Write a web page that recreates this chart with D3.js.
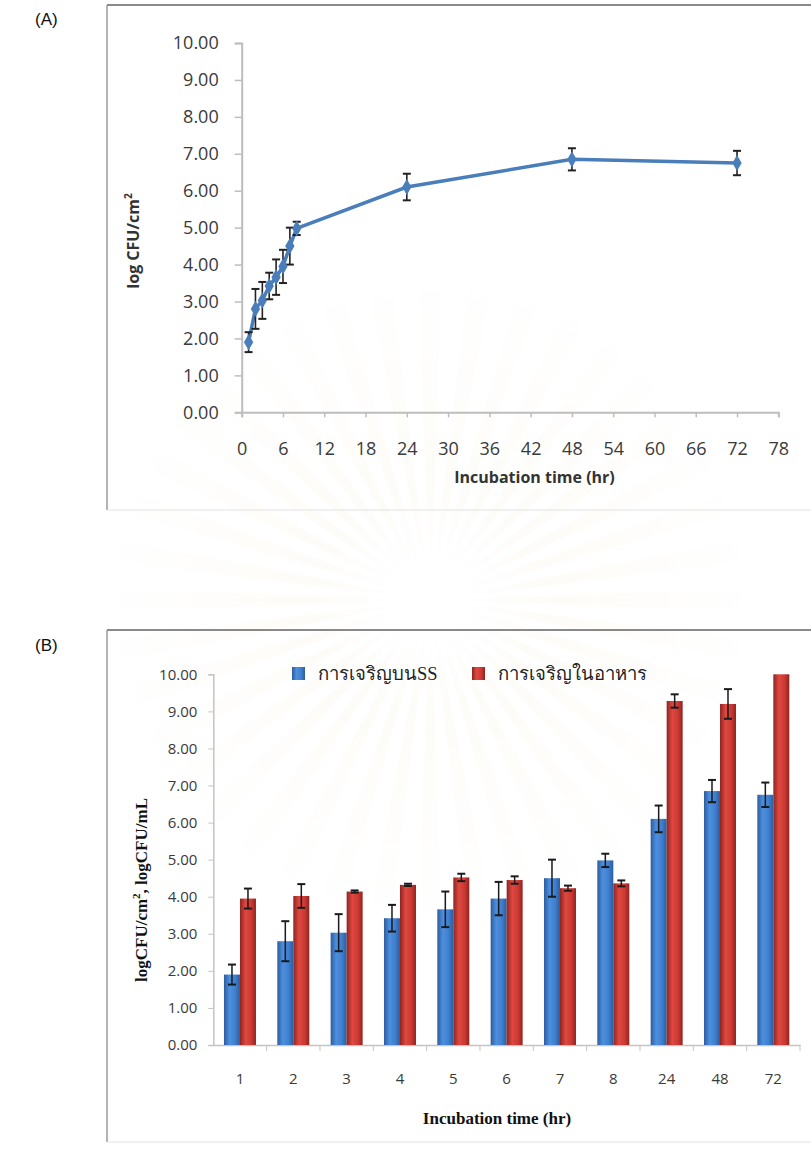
<!DOCTYPE html>
<html>
<head>
<meta charset="utf-8">
<script src="https://cdn.jsdelivr.net/npm/d3@7"></script>
<style>
  html, body { margin: 0; padding: 0; background: #fff; }
  svg { display: block; }
</style>
</head>
<body>
<svg id="chart" width="811" height="1149"></svg>
<script>
// Incubation times (hr) and growth measurements
const hours = [1, 2, 3, 4, 5, 6, 7, 8, 24, 48, 72];
const hourLabels = ["1", "2", "3", "4", "5", "6", "7", "8", "24", "48", "72"];

// Growth on stainless steel surface (log CFU/cm²) and its standard deviation
const surfaceMean = [1.90, 2.80, 3.03, 3.42, 3.66, 3.95, 4.50, 4.98, 6.10, 6.85, 6.75];
const surfaceSd   = [0.27, 0.54, 0.50, 0.36, 0.48, 0.45, 0.50, 0.18, 0.36, 0.30, 0.33];

// Growth in food (log CFU/mL) and its standard deviation
const foodMean = [3.95, 4.02, 4.14, 4.32, 4.52, 4.45, 4.23, 4.36, 9.28, 9.20, 10.00];
const foodSd   = [0.27, 0.32, 0.03, 0.03, 0.10, 0.10, 0.07, 0.08, 0.18, 0.40, 0.00];

const seriesNames = ["การเจริญบนSS", "การเจริญในอาหาร"];

const yTicks = [0, 1, 2, 3, 4, 5, 6, 7, 8, 9, 10];
const xTicksA = [0, 6, 12, 18, 24, 30, 36, 42, 48, 54, 60, 66, 72, 78];

const svg = d3.select("#chart");
const defs = svg.append("defs");

// faint sunburst emblem in the page background
const cx0 = 430, cy0 = 600;
const rg = defs.append("radialGradient").attr("id", "rayGrad")
  .attr("gradientUnits", "userSpaceOnUse").attr("cx", cx0).attr("cy", cy0).attr("r", 320);
rg.append("stop").attr("offset", "0.12").attr("stop-color", "#f3e4ba").attr("stop-opacity", 0.0);
rg.append("stop").attr("offset", "0.35").attr("stop-color", "#f3e4ba").attr("stop-opacity", 0.35);
rg.append("stop").attr("offset", "1").attr("stop-color", "#f3e4ba").attr("stop-opacity", 0.0);
const bg = svg.append("g").attr("opacity", 0.28);
d3.range(0, 40).forEach(i => {
  const a = (i / 40) * Math.PI * 2;
  const w = 0.035;
  const r = 320;
  bg.append("path")
    .attr("d", `M${cx0},${cy0} L${cx0 + r * Math.cos(a - w)},${cy0 + r * Math.sin(a - w)} L${cx0 + r * Math.cos(a + w)},${cy0 + r * Math.sin(a + w)} Z`)
    .attr("fill", "url(#rayGrad)");
});

const sans = "'Open Sans', 'Noto Sans', sans-serif";
const serif = "'Liberation Serif', 'DejaVu Serif', serif";

// panel labels
svg.append("text").attr("x", 35).attr("y", 25).text("(A)")
  .attr("font-family", "'Liberation Sans', Arial, sans-serif").attr("font-size", 17).attr("fill", "#111");
svg.append("text").attr("x", 35).attr("y", 651).text("(B)")
  .attr("font-family", "'Liberation Sans', Arial, sans-serif").attr("font-size", 17).attr("fill", "#111");

// ---------- Panel A: growth curve ----------
const frameA = svg.append("g");
frameA.append("line").attr("x1", 107).attr("x2", 811).attr("y1", 5).attr("y2", 5)
  .attr("stroke", "#8a8a8a").attr("stroke-width", 2);
frameA.append("line").attr("x1", 107).attr("x2", 107).attr("y1", 5).attr("y2", 510)
  .attr("stroke", "#9a9a9a").attr("stroke-width", 1.5);
frameA.append("line").attr("x1", 107).attr("x2", 811).attr("y1", 510).attr("y2", 510)
  .attr("stroke", "#e2e2e2").attr("stroke-width", 1);

const xA = d3.scaleLinear().domain([0, 78]).range([241.7, 778.3]);
const yA = d3.scaleLinear().domain([0, 10]).range([412.3, 43]);

const gA = svg.append("g");

const yAxisA = gA.append("g").attr("transform", `translate(${xA(0)},0)`)
  .call(d3.axisLeft(yA).tickValues(yTicks).tickFormat(d3.format(".2f")).tickSize(7).tickPadding(16));
const xAxisA = gA.append("g").attr("transform", `translate(0,${yA(0)})`)
  .call(d3.axisBottom(xA).tickValues(xTicksA).tickFormat(d3.format("d")).tickSize(5).tickPadding(25));
[yAxisA, xAxisA].forEach(ax => {
  ax.select(".domain").attr("stroke", "#bdbdbd").attr("stroke-width", 2);
  ax.selectAll(".tick line").attr("stroke", "#bdbdbd").attr("stroke-width", 1.5);
  ax.selectAll(".tick text").attr("font-family", sans).attr("font-size", 18).attr("fill", "#3a3a3a");
});

gA.append("text").text("Incubation time (hr)")
  .attr("x", 534.5).attr("y", 483).attr("text-anchor", "middle")
  .attr("font-family", sans).attr("font-weight", "bold").attr("font-size", 16).attr("fill", "#333");

const yTitleA = gA.append("text")
  .attr("transform", "translate(139,241) rotate(-90)").attr("text-anchor", "middle")
  .attr("font-family", sans).attr("font-weight", "bold").attr("font-size", 16).attr("fill", "#333");
yTitleA.append("tspan").text("log CFU/cm");
yTitleA.append("tspan").text("2").attr("font-size", 10).attr("dy", -7);

const pointsA = hours.map((h, i) => ({ h, m: surfaceMean[i], sd: surfaceSd[i] }));

gA.append("path").datum(pointsA)
  .attr("d", d3.line().x(d => xA(d.h)).y(d => yA(d.m)))
  .attr("fill", "none").attr("stroke", "#4a7ebb").attr("stroke-width", 3.5);

const errA = gA.append("g").selectAll("g").data(pointsA).join("g");
errA.append("line").attr("x1", d => xA(d.h)).attr("x2", d => xA(d.h))
  .attr("y1", d => yA(d.m - d.sd)).attr("y2", d => yA(d.m + d.sd))
  .attr("stroke", "#222").attr("stroke-width", 1.6);
errA.selectAll("line.cap").data(d => [[d.h, d.m - d.sd], [d.h, d.m + d.sd]]).join("line")
  .attr("class", "cap")
  .attr("x1", d => xA(d[0]) - 4).attr("x2", d => xA(d[0]) + 4)
  .attr("y1", d => yA(d[1])).attr("y2", d => yA(d[1]))
  .attr("stroke", "#222").attr("stroke-width", 2);

gA.append("g").selectAll("path").data(pointsA).join("path")
  .attr("d", d3.symbol().type(d3.symbolDiamond).size(75))
  .attr("transform", d => `translate(${xA(d.h)},${yA(d.m)})`)
  .attr("fill", "#4a7ebb");

// ---------- Panel B: paired bar chart ----------
const frameB = svg.append("g");
frameB.append("line").attr("x1", 107).attr("x2", 811).attr("y1", 630).attr("y2", 630)
  .attr("stroke", "#8a8a8a").attr("stroke-width", 2);
frameB.append("line").attr("x1", 107).attr("x2", 107).attr("y1", 630).attr("y2", 1142)
  .attr("stroke", "#9a9a9a").attr("stroke-width", 1.5);
frameB.append("line").attr("x1", 107).attr("x2", 811).attr("y1", 1142).attr("y2", 1142)
  .attr("stroke", "#e2e2e2").attr("stroke-width", 1);

const xB = d3.scaleBand().domain(hourLabels).range([213.3, 800]).padding(0);
const xSub = d3.scaleBand().domain(seriesNames).range([0, xB.bandwidth()]).paddingInner(0).paddingOuter(0.667);
const yB = d3.scaleLinear().domain([0, 10]).range([1045, 674.3]);

// cylinder-like shading for the bars
function barGradient(id, edge, mid, light) {
  const g = defs.append("linearGradient").attr("id", id).attr("x1", 0).attr("x2", 1).attr("y1", 0).attr("y2", 0);
  g.append("stop").attr("offset", "0").attr("stop-color", edge);
  g.append("stop").attr("offset", "0.35").attr("stop-color", light);
  g.append("stop").attr("offset", "0.7").attr("stop-color", mid);
  g.append("stop").attr("offset", "1").attr("stop-color", edge);
}
barGradient("blueBar", "#2b5d9e", "#3f7fcf", "#4d8fde");
barGradient("redBar", "#8f2420", "#cc3a33", "#de4840");
const fills = { [seriesNames[0]]: "url(#blueBar)", [seriesNames[1]]: "url(#redBar)" };

const gB = svg.append("g");

const yAxisB = gB.append("g").attr("transform", `translate(${xB.range()[0]},0)`)
  .call(d3.axisLeft(yB).tickValues(yTicks).tickFormat(d3.format(".2f")).tickSize(5).tickPadding(11));
yAxisB.select(".domain").attr("stroke", "#c4c4c4").attr("stroke-width", 1.5);
yAxisB.selectAll(".tick line").attr("stroke", "#c4c4c4");
yAxisB.selectAll(".tick text").attr("font-family", sans).attr("font-size", 15).attr("fill", "#3a3a3a");

const xAxisB = gB.append("g").attr("transform", `translate(0,${yB(0)})`)
  .call(d3.axisBottom(xB).tickSize(0).tickPadding(28));
xAxisB.select(".domain").attr("stroke", "#c4c4c4").attr("stroke-width", 1.5);
xAxisB.selectAll(".tick text").attr("font-family", sans).attr("font-size", 15).attr("fill", "#3a3a3a");
// category separators on the x axis
xAxisB.append("g").selectAll("line").data(hourLabels).join("line")
  .attr("x1", d => xB(d) + xB.bandwidth()).attr("x2", d => xB(d) + xB.bandwidth())
  .attr("y1", 0).attr("y2", 6).attr("stroke", "#c4c4c4");

const rows = hourLabels.map((lab, i) => ({
  lab,
  vals: [
    { s: seriesNames[0], m: surfaceMean[i], sd: surfaceSd[i] },
    { s: seriesNames[1], m: foodMean[i], sd: foodSd[i] }
  ]
}));

const groups = gB.append("g").selectAll("g").data(rows).join("g")
  .attr("transform", d => `translate(${xB(d.lab)},0)`);

groups.selectAll("rect").data(d => d.vals).join("rect")
  .attr("x", d => xSub(d.s)).attr("width", xSub.bandwidth())
  .attr("y", d => yB(d.m)).attr("height", d => yB(0) - yB(d.m))
  .attr("fill", d => fills[d.s]);

const errB = groups.selectAll("g.err").data(d => d.vals.filter(v => v.sd > 0)).join("g").attr("class", "err");
errB.append("line")
  .attr("x1", d => xSub(d.s) + xSub.bandwidth() / 2).attr("x2", d => xSub(d.s) + xSub.bandwidth() / 2)
  .attr("y1", d => yB(d.m - d.sd)).attr("y2", d => yB(d.m + d.sd))
  .attr("stroke", "#1a1a1a").attr("stroke-width", 1.5);
errB.selectAll("line.cap").data(d => [[d, d.m - d.sd], [d, d.m + d.sd]]).join("line").attr("class", "cap")
  .attr("x1", d => xSub(d[0].s) + xSub.bandwidth() / 2 - 4).attr("x2", d => xSub(d[0].s) + xSub.bandwidth() / 2 + 4)
  .attr("y1", d => yB(d[1])).attr("y2", d => yB(d[1]))
  .attr("stroke", "#1a1a1a").attr("stroke-width", 2);

// axis titles
gB.append("text").text("Incubation time (hr)")
  .attr("x", 497).attr("y", 1124).attr("text-anchor", "middle")
  .attr("font-family", serif).attr("font-weight", "bold").attr("font-size", 17).attr("fill", "#111");

const yTitleB = gB.append("text")
  .attr("transform", "translate(147,890) rotate(-90)").attr("text-anchor", "middle")
  .attr("font-family", serif).attr("font-weight", "bold").attr("font-size", 17).attr("fill", "#111");
yTitleB.append("tspan").text("logCFU/cm");
yTitleB.append("tspan").text("2").attr("font-size", 11).attr("dy", -7);
yTitleB.append("tspan").text(", logCFU/mL").attr("dy", 7);

// legend
const legend = gB.append("g");
const legendPos = [{ x: 292, tx: 318 }, { x: 472, tx: 498 }];
seriesNames.forEach((name, i) => {
  legend.append("rect").attr("x", legendPos[i].x).attr("y", 667).attr("width", 13).attr("height", 13)
    .attr("fill", fills[name]);
  legend.append("text").attr("x", legendPos[i].tx).attr("y", 680).text(name)
    .attr("font-family", serif).attr("font-size", 18.5).attr("fill", "#222");
});
</script>
</body>
</html>
